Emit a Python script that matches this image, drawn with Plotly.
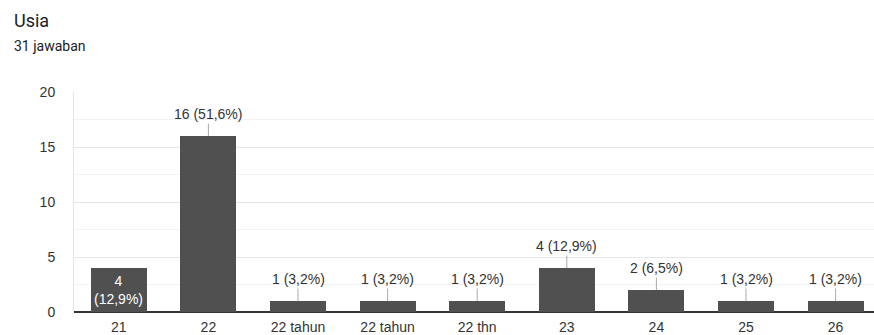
import plotly.graph_objects as go

categories = ["21", "22", "22 tahun", "22 tahun", "22 thn", "23", "24", "25", "26"]
counts = [4, 16, 1, 1, 1, 4, 2, 1, 1]
labels = ["4<br>(12,9%)", "16 (51,6%)", "1 (3,2%)", "1 (3,2%)", "1 (3,2%)",
          "4 (12,9%)", "2 (6,5%)", "1 (3,2%)", "1 (3,2%)"]
inside = [True, False, False, False, False, False, False, False, False]
y_ticks = [0, 5, 10, 15, 20]

xs = list(range(len(categories)))
fig = go.Figure()
fig.add_trace(go.Bar(x=xs, y=counts, width=0.625, marker=dict(color="#505050", line=dict(width=0)),
                     hoverinfo="skip"))

font = "Liberation Sans, Arial, sans-serif"
tfont = "Roboto, Arial, sans-serif"
for x, c, lab, ins in zip(xs, counts, labels, inside):
    if ins:
        fig.add_annotation(x=x, y=c / 2, text=lab, showarrow=False,
                           font=dict(family=font, size=14, color="white"))
    else:
        fig.add_annotation(x=x, y=c, text=lab, showarrow=True, arrowhead=0, arrowwidth=1,
                           arrowcolor="#aaaaaa", ax=0, ay=-22, standoff=0,
                           font=dict(family=font, size=14, color="#333333"))

fig.add_annotation(xref="paper", yref="paper", x=(12 - 74) / 800, y=1 + 72 / 220, xanchor="left",
                   yanchor="middle", text="Usia", showarrow=False,
                   font=dict(family=tfont, size=18, color="#202124"))
fig.add_annotation(xref="paper", yref="paper", x=(12 - 74) / 800, y=1 + 46 / 220, xanchor="left",
                   yanchor="middle", text="31 jawaban", showarrow=False,
                   font=dict(family=tfont, size=14, color="#202124"))

fig.update_layout(
    width=874, height=335,
    margin=dict(l=74, r=0, t=92, b=23),
    paper_bgcolor="white", plot_bgcolor="white",
    showlegend=False, bargap=0,
    font=dict(family=font, size=14, color="#444444"),
    xaxis=dict(range=[-0.5, -0.5 + 800 / 89.6], tickvals=xs, ticktext=categories,
               showgrid=False, zeroline=False, showline=False, ticks="", ticklabelstandoff=5,
               tickfont=dict(size=14, color="#333333"), fixedrange=True),
    yaxis=dict(range=[0, 20], tickvals=y_ticks, showgrid=True, gridcolor="#e6e6e6", gridwidth=1,
               minor=dict(dtick=2.5, showgrid=True, gridcolor="#f2f2f2", tick0=0),
               zeroline=True, zerolinecolor="#333333", zerolinewidth=1.5,
               showline=True, linecolor="#e6e6e6", ticks="", ticklabelstandoff=15,
               tickfont=dict(size=14, color="#333333"), fixedrange=True),
)

fig.write_html("out.html")
